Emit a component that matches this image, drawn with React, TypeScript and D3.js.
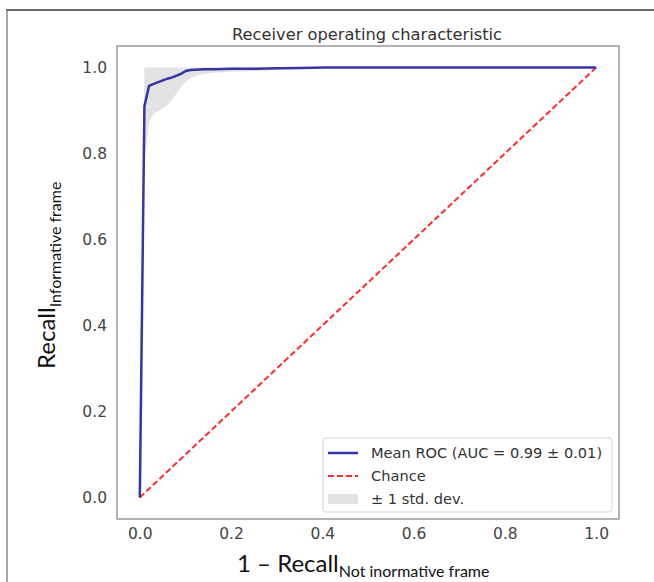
import React, { useEffect, useRef } from "react";
import * as d3 from "d3";

// mean ROC curve (fpr grid, mean tpr, band limits)
const fpr = [0, 0.0101, 0.0202, 0.0303, 0.0404, 0.0505, 0.0606, 0.0707, 0.0808, 0.0909, 0.101, 0.111, 0.121, 0.141, 0.162, 0.202, 0.253, 0.303, 0.354, 0.404, 0.455, 0.5, 0.6, 0.7, 0.8, 0.9, 1.0];
const meanTpr = [0, 0.91, 0.957, 0.962, 0.966, 0.970, 0.974, 0.977, 0.981, 0.986, 0.992, 0.994, 0.995, 0.996, 0.996, 0.997, 0.997, 0.998, 0.999, 1.0, 1.0, 1.0, 1.0, 1.0, 1.0, 1.0, 1.0];
const lowerTpr = [0, 0.78, 0.872, 0.892, 0.899, 0.905, 0.913, 0.925, 0.94, 0.955, 0.967, 0.975, 0.980, 0.985, 0.988, 0.990, 0.992, 0.994, 0.997, 1.0, 1.0, 1.0, 1.0, 1.0, 1.0, 1.0, 1.0];
const upperTpr = [0, 1, 1, 1, 1, 1, 1, 1, 1, 1, 1, 1, 1, 1, 1, 1, 1, 1, 1, 1, 1, 1, 1, 1, 1, 1, 1];
const chance = [0, 1];
const ticks = [0, 0.2, 0.4, 0.6, 0.8, 1.0];
const legendLabels = ["Mean ROC (AUC = 0.99 \u00b1 0.01)", "Chance", "\u00b1 1 std. dev."];

const W = 654;
const H = 582;

const App = () => {
  const svgRef = useRef(null);

  useEffect(() => {
    const svg = d3.select(svgRef.current);
    svg.selectAll("*").remove();

    const x = d3.scaleLinear().domain([-0.05, 1.05]).range([117, 619]);
    const y = d3.scaleLinear().domain([-0.05, 1.05]).range([519, 46]);
    const tickFont = "DejaVu Sans, sans-serif";

    // outer frame of the screenshot
    svg.append("line").attr("x1", 6).attr("x2", W).attr("y1", 10).attr("y2", 10)
      .attr("stroke", "#333").attr("stroke-width", 1.5);
    svg.append("line").attr("x1", 7).attr("x2", 7).attr("y1", 10).attr("y2", H)
      .attr("stroke", "#888").attr("stroke-width", 1.5);

    // std band
    svg.append("path")
      .datum(fpr.map((f, i) => ({ f, lo: lowerTpr[i], hi: upperTpr[i] })))
      .attr("d", d3.area().x((d) => x(d.f)).y0((d) => y(d.lo)).y1((d) => y(d.hi)))
      .attr("fill", "#e3e3e3");

    // chance
    svg.append("path")
      .datum(chance)
      .attr("d", d3.line().x((d) => x(d)).y((d) => y(d)))
      .attr("stroke", "#ff2a2a").attr("stroke-width", 2)
      .attr("stroke-dasharray", "6,3").attr("fill", "none");

    // mean roc
    svg.append("path")
      .datum(fpr.map((f, i) => [f, meanTpr[i]]))
      .attr("d", d3.line().x((d) => x(d[0])).y((d) => y(d[1])))
      .attr("stroke", "#3535a6").attr("stroke-width", 2.5).attr("fill", "none");

    // axes, no tick marks
    const xAxis = svg.append("g").attr("transform", "translate(0,519)")
      .call(d3.axisBottom(x).tickValues(ticks).tickSize(0).tickPadding(9).tickFormat(d3.format(".1f")));
    const yAxis = svg.append("g").attr("transform", "translate(117,0)")
      .call(d3.axisLeft(y).tickValues(ticks).tickSize(0).tickPadding(10).tickFormat(d3.format(".1f")));
    [xAxis, yAxis].forEach((g) => {
      g.select(".domain").remove();
      g.selectAll("text").attr("font-family", tickFont).attr("font-size", 15.5).attr("fill", "#444");
    });

    // plot frame
    svg.append("rect").attr("x", 117).attr("y", 46).attr("width", 502).attr("height", 473)
      .attr("fill", "none").attr("stroke", "#999").attr("stroke-width", 1.5);

    svg.append("text").attr("x", 367).attr("y", 40).attr("text-anchor", "middle")
      .attr("font-family", tickFont).attr("font-size", 16.3).attr("fill", "#333")
      .text("Receiver operating characteristic");

    // axis labels with subscripts
    const labelFont = "Lato, Open Sans, sans-serif";
    const xl = svg.append("text").attr("x", 237).attr("y", 572)
      .attr("font-family", labelFont).attr("fill", "#111");
    xl.append("tspan").attr("font-size", 24).text("1 \u2013 Recall");
    xl.append("tspan").attr("font-size", 16).attr("dy", 5).text("Not inormative frame");

    const yl = svg.append("text").attr("transform", "translate(55,369) rotate(-90)")
      .attr("font-family", labelFont).attr("fill", "#111");
    yl.append("tspan").attr("font-size", 24).text("Recall");
    yl.append("tspan").attr("font-size", 16).attr("dy", 6).text("Informative frame");

    // legend
    const lg = svg.append("g").attr("transform", "translate(323,438)");
    lg.append("rect").attr("width", 289).attr("height", 74).attr("rx", 3)
      .attr("fill", "white").attr("fill-opacity", 0.8).attr("stroke", "#d5d5d5");
    const rows = [15, 38, 61];
    lg.append("line").attr("x1", 5).attr("x2", 35).attr("y1", rows[0]).attr("y2", rows[0])
      .attr("stroke", "#3535a6").attr("stroke-width", 2.5);
    lg.append("line").attr("x1", 5).attr("x2", 35).attr("y1", rows[1]).attr("y2", rows[1])
      .attr("stroke", "#ff2a2a").attr("stroke-width", 2).attr("stroke-dasharray", "6,3");
    lg.append("rect").attr("x", 5).attr("y", rows[2] - 5).attr("width", 30).attr("height", 10)
      .attr("fill", "#e3e3e3");
    lg.selectAll("text.lbl").data(legendLabels).enter().append("text")
      .attr("class", "lbl").attr("x", 48).attr("y", (d, i) => rows[i] + 5)
      .attr("font-family", tickFont).attr("font-size", 14.6).attr("fill", "#333")
      .text((d) => d);
  }, []);

  return (
    <div style={{ position: "absolute", left: 0, top: 0 }}>
      <svg ref={svgRef} width={W} height={H} style={{ display: "block", background: "white" }} />
    </div>
  );
};

export default App;
